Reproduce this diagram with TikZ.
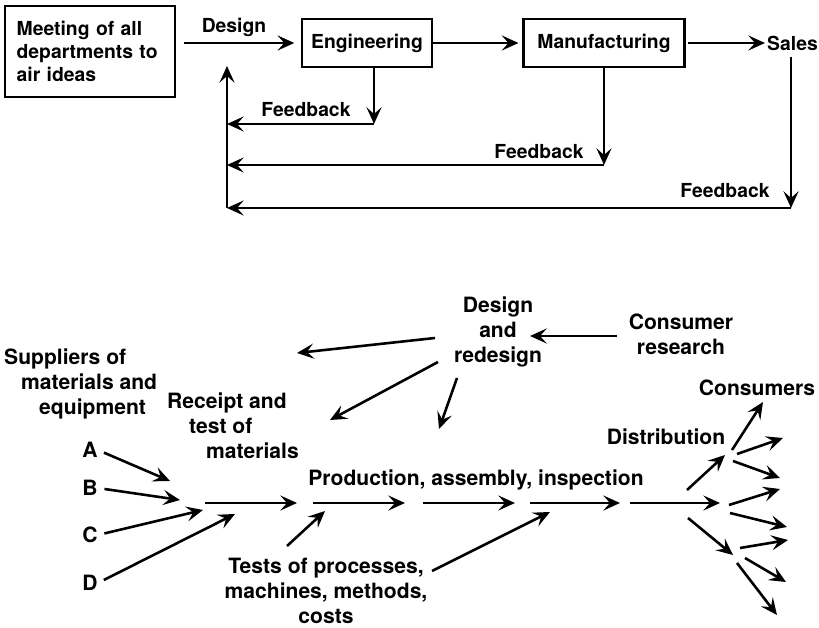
\documentclass[tikz,border=0pt]{standalone}
\usepackage{fontspec}
\setmainfont{TeX Gyre Heros}
\usetikzlibrary{arrows.meta, positioning}
\tikzset{
flow box/.style = { rectangle, draw = black, line width = 1.8pt, inner sep = 0pt, minimum height = 1.44cm },
top label/.style = { inner sep = 0pt, font = \fontsize{16.5}{19.6}\selectfont\bfseries },
low label/.style = { inner sep = 0pt, font = \fontsize{18}{21.5}\selectfont\bfseries },
flow/.style = { -{Stealth[length=0.5cm, width=0.45cm, inset=0.2cm]}, line width = 2.2pt },
}

\begin{document}
\begin{tikzpicture}[x=0.03cm, y=-0.03cm]
    \useasboundingbox (0,0) rectangle (819,628);
    % design loop with feedback
    \begin{scope}[every node/.style={top label}]
      \node[flow box, minimum width=5.1cm, minimum height=2.73cm, text width=4.4cm, align=left, inner xsep=0.35cm] (meeting) at (90,51.5) {Meeting of all\\departments to\\air ideas};
      \node[flow box, minimum width=3.9cm] (engineering) at (367,43) {Engineering};
      \node[flow box, minimum width=4.83cm] (manufacturing) at (604,43) {Manufacturing};
      \node[anchor=west] (sales) at (767,43) {Sales};
      \node (design) at (234,27) {Design};
      \node (fb eng) at (306,110) {Feedback};
      \node (fb manu) at (539,152) {Feedback};
      \node (fb sales) at (725,191) {Feedback};
    \end{scope}
    \coordinate (eng drop) at (374,124);
    \coordinate (manu drop) at (604,165);
    \coordinate (sales drop) at (791,208);
    \coordinate (return top) at (227,66);
    \begin{scope}[every path/.style={flow}]
      \draw[shorten <=0.24cm, shorten >=0.2cm] (meeting.east |- engineering.west) -- (engineering.west);
      \draw[shorten >=0.12cm] (engineering) -- (manufacturing);
      \draw[shorten <=0.06cm, shorten >=0.06cm] (manufacturing) -- (sales);
      \draw (engineering.south -| eng drop) -- (eng drop);
      \draw (eng drop) -- (eng drop -| return top);
      \draw (manufacturing.south) -- (manu drop);
      \draw (manu drop) -- (manu drop -| return top);
      \draw[shorten <=0.18cm] (sales.south -| sales drop) -- (sales drop);
      \draw (sales drop) -- (sales drop -| return top);
      \draw (sales drop -| return top) -- (return top);
    \end{scope}
    % production flow
    \begin{scope}[every node/.style={low label}]
      \node[anchor=west, align=left] (suppliers) at (4,384) {Suppliers of\\\hspace*{0.51cm}materials and\\\hspace*{1.05cm}equipment};
      \node[anchor=west, align=left] (receipt) at (167,426) {Receipt and\\\hspace*{0.66cm}test of\\\hspace*{1.17cm}materials};
      \node (A) at (90,450) {A};
      \node (B) at (90,488) {B};
      \node (C) at (90,535) {C};
      \node (D) at (90,583) {D};
      \node (production) at (476,480) {Production, assembly, inspection};
      \node[align=center] (tests) at (326,591) {Tests of processes,\\machines, methods,\\costs};
      \node[align=center] (redesign) at (498,332) {Design\\and\\redesign};
      \node[align=center] (research) at (681,334) {Consumer\\research};
      \node (distribution) at (666,437) {Distribution};
      \node (consumers) at (757,388) {Consumers};
    \end{scope}
    \coordinate (in a) at (170,481);
    \coordinate (in b) at (180,500);
    \coordinate (in c) at (203,510);
    \coordinate (in d) at (235,514);
    \coordinate (m0) at (205,503);
    \coordinate (m1) at (297,503);
    \coordinate (m2) at (313,503);
    \coordinate (m3) at (405,503);
    \coordinate (m4) at (423,503);
    \coordinate (m5) at (515,503);
    \coordinate (m6) at (530,503);
    \coordinate (m7) at (620,503);
    \coordinate (m8) at (630,503);
    \coordinate (m9) at (720,503);
    \coordinate (t1 from) at (287,546);
    \coordinate (t1 to) at (325,511);
    \coordinate (t2 from) at (432,571);
    \coordinate (t2 to) at (550,512);
    \coordinate (cr from) at (617,336);
    \coordinate (cr to) at (530,336);
    \coordinate (r1 from) at (435,338);
    \coordinate (r1 to) at (297,353);
    \coordinate (r2 from) at (438,362);
    \coordinate (r2 to) at (330,420);
    \coordinate (r3 from) at (457,378);
    \coordinate (r3 to) at (439,429);
    \coordinate (du from) at (687,490);
    \coordinate (du to) at (725,455);
    \coordinate (dl from) at (688,518);
    \coordinate (dl to) at (733,555);
    \begin{scope}[every path/.style={flow}]
      \draw[shorten <=0.2cm] (A.east) -- (in a);
      \draw[shorten <=0.2cm] (B.east) -- (in b);
      \draw[shorten <=0.2cm] (C.east) -- (in c);
      \draw[shorten <=0.2cm] (D.east) -- (in d);
      \draw (m0) -- (m1);
      \draw (m2) -- (m3);
      \draw (m4) -- (m5);
      \draw (m6) -- (m7);
      \draw (m8) -- (m9);
      \draw (t1 from) -- (t1 to);
      \draw (t2 from) -- (t2 to);
      \draw (cr from) -- (cr to);
      \draw (r1 from) -- (r1 to);
      \draw (r2 from) -- (r2 to);
      \draw (r3 from) -- (r3 to);
      \draw (du from) -- (du to);
      \draw (dl from) -- (dl to);
      % fan out to consumers
      \draw (732,450) -- (763,402);
      \draw (737,454) -- (783,438);
      \draw (733,461) -- (780,478);
      \draw (729,505) -- (780,489);
      \draw (730,513) -- (787,527);
      \draw (740,548) -- (788,540);
      \draw (745,558) -- (786,582);
      \draw (737,563) -- (777,615);
    \end{scope}
\end{tikzpicture}
\end{document}
